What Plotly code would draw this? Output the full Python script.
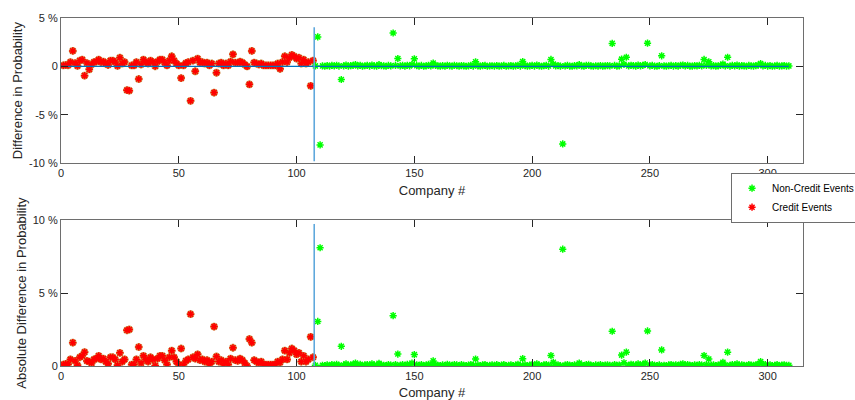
import plotly.graph_objects as go

# ---- data (percent) ----
credit_diff = [0.1, 0.15, 0.12, 0.45, 1.6, 0.35, 0.05, 0.6, 0.7, -0.95,
               0.35, -0.3, 0.2, 0.45, 0.5, 0.7, 0.45, 0.5, 0.3, 0.15,
               0.6, 0.6, 0.45, 0.05, 0.9, 0.3, 0.45, -2.45, -2.5, 0.1,
               0.1, 0.45, -1.3, 0.2, 0.7, 0.45, 0.3, 0.6, 0.45, 0.02,
               0.5, 0.7, 0.7, 0.4, 0.1, 0.6, 1.05, 0.6, 0.3, 0.1,
               -1.2, 0.1, 0.35, 0.45, -3.55, 0.6, -0.5, 0.8, 0.4, 0.45,
               0.3, 0.4, 0.1, 0.3, -2.7, -0.65, 0.3, 0.4, 0.1, 0.3,
               0.1, 0.5, 1.25, 0.4, 0.35, 0.5, 0.4, 0.2, 0.0, -1.85,
               1.6, 0.4, 0.3, 0.2, 0.3, 0.1, 0.1, 0.1, 0.1, 0.1,
               0.1, 0.3, -0.25, 0.45, 1.05, 0.45, 0.9, 1.2, 1.05, 0.8,
               0.9, 0.3, 0.7, 0.3, 0.45, -2.0, 0.6]

noncredit_diff = [0.05, 3.05, -8.1,
                  0.05, 0.02, 0.08, 0.03, 0.1, 0.05, 0.12, 0.04,
                  -1.35,
                  0.06, 0.15, 0.03, 0.08, 0.1, 0.2, 0.05, 0.12, 0.02, 0.07,
                  0.1, 0.04, 0.15, 0.06, 0.03, 0.18, 0.08, 0.05, 0.02, 0.1, 0.06,
                  3.45, 0.1, 0.82,
                  0.05, 0.1, 0.03, 0.12, 0.06, 0.2,
                  0.78,
                  0.08, 0.04, 0.1, 0.02, 0.06, 0.12, 0.05,
                  0.35,
                  0.1, 0.05, 0.03, 0.08, 0.02, 0.12, 0.06, 0.04, 0.1, 0.07,
                  0.03, 0.09, 0.05, 0.02, 0.06, 0.1, 0.04,
                  0.48,
                  0.06, 0.03, 0.08, 0.1, 0.02, 0.05, 0.07, 0.04, 0.09, 0.03,
                  0.06, 0.1, 0.02, 0.05, 0.08, 0.03, 0.06, 0.12, 0.04,
                  0.5,
                  0.08, 0.03, 0.06, 0.1, 0.04, 0.15, 0.05, 0.02, 0.07, 0.1, 0.04,
                  0.72, 0.25,
                  0.05, 0.08, 0.03,
                  -8.0,
                  0.06, 0.1, 0.04, 0.02, 0.08, 0.05, 0.2, 0.06, 0.03, 0.1,
                  0.12, 0.05, 0.02, 0.07, 0.04, 0.09, 0.03, 0.06, 0.08, 0.05,
                  2.38,
                  0.1, 0.04, 0.06,
                  0.75, 0.22, 0.95,
                  0.05, 0.12, 0.08, 0.03, 0.15, 0.06, 0.1, 0.2,
                  2.4,
                  0.06, 0.1, 0.04, 0.02, 0.08,
                  1.1,
                  0.05, 0.03, 0.07, 0.1, 0.04, 0.08, 0.02, 0.12, 0.15, 0.06,
                  0.1, 0.04, 0.03, 0.08, 0.05, 0.1, 0.06,
                  0.72, 0.1, 0.48,
                  0.05, 0.08, 0.03, 0.06, 0.1,
                  0.25, 0.06, 0.95,
                  0.04, 0.1, 0.06, 0.15, 0.03, 0.08, 0.05, 0.02, 0.1, 0.06,
                  0.04, 0.08, 0.12,
                  0.3,
                  0.06, 0.1, 0.04, 0.08, 0.02, 0.05, 0.1, 0.03, 0.06, 0.08,
                  0.04, 0.05]

credit_x = list(range(1, len(credit_diff) + 1))
noncredit_x = list(range(len(credit_diff) + 1, len(credit_diff) + len(noncredit_diff) + 1))
n_companies = len(credit_diff) + len(noncredit_diff)

credit_abs = [abs(v) for v in credit_diff]
noncredit_abs = [abs(v) for v in noncredit_diff]

separator_x = len(credit_diff) + 0.5
sep_top_y = [-9.8, 4.05]
sep_bot_y = [0, 9.73]
zero_line_x = [0, n_companies]
zero_line_y = [0, 0]

top_tickvals = [-10, -5, 0, 5]
top_ticktext = ["-10 %", "-5 %", "0", "5 %"]
bot_tickvals = [0, 5, 10]
bot_ticktext = ["0", "5 %", "10 %"]
x_tickvals = [0, 50, 100, 150, 200, 250, 300]

GREEN = "#00ff00"
RED = "#ff0000"
FONT = "Liberation Sans, Arial, Helvetica, sans-serif"

fig = go.Figure()

def add_points(x, y, color, name, xa, ya, legend, under=None):
    if under:
        fig.add_trace(go.Scatter(x=x, y=y, mode="markers", xaxis=xa, yaxis=ya,
                                 showlegend=False, hoverinfo="skip",
                                 marker=dict(symbol="asterisk-open", size=6.5, color=under,
                                             line=dict(color=under, width=2.4))))
    fig.add_trace(go.Scatter(x=x, y=y, mode="markers", xaxis=xa, yaxis=ya, name=name,
                             showlegend=legend,
                             marker=dict(symbol="asterisk-open", size=6, color=color,
                                         line=dict(color=color, width=1.5))))

# top panel
add_points(credit_x, credit_diff, RED, "Credit Events", "x", "y", False, under="#c89040")
add_points(noncredit_x, noncredit_diff, GREEN, "Non-Credit Events", "x", "y", False)
fig.add_trace(go.Scatter(x=zero_line_x, y=zero_line_y, mode="lines", xaxis="x", yaxis="y",
                         showlegend=False, line=dict(color="#0072BD", width=1.2)))
fig.add_trace(go.Scatter(x=[separator_x, separator_x], y=sep_top_y, mode="lines", xaxis="x", yaxis="y",
                         showlegend=False, line=dict(color="#5fa8dc", width=1.6)))

# bottom panel
add_points(noncredit_x, noncredit_abs, GREEN, "Non-Credit Events", "x2", "y2", True)
add_points(credit_x, credit_abs, RED, "Credit Events", "x2", "y2", True, under="#c89040")
fig.add_trace(go.Scatter(x=[separator_x, separator_x], y=sep_bot_y, mode="lines", xaxis="x2", yaxis="y2",
                         showlegend=False, line=dict(color="#5fa8dc", width=1.6)))

axis_common = dict(showgrid=False, zeroline=False, showline=True, mirror="ticks",
                   linecolor="#6e6e6e", linewidth=1, ticks="inside", ticklen=7,
                   tickcolor="#262626", automargin=False,
                   tickfont=dict(family=FONT, size=11, color="#262626"))

fig.update_layout(
    width=855, height=400,
    margin=dict(l=61, r=52, t=18, b=34, autoexpand=False),
    paper_bgcolor="white", plot_bgcolor="white",
    font=dict(family=FONT, color="#262626"),
    xaxis=dict(domain=[0, 1], anchor="y", range=[0, 315], tickvals=x_tickvals,
               title=dict(text="Company #", font=dict(size=13), standoff=7), **axis_common),
    yaxis=dict(domain=[0.5825, 1], anchor="x", range=[-10, 5], tickvals=top_tickvals,
               ticktext=top_ticktext,
               title=dict(text="Difference in Probability", font=dict(size=13), standoff=3),
               **axis_common),
    xaxis2=dict(domain=[0, 1], anchor="y2", range=[0, 315], tickvals=x_tickvals,
                title=dict(text="Company #", font=dict(size=13), standoff=6), **axis_common),
    yaxis2=dict(domain=[0, 0.4195], anchor="x2", range=[0, 10], tickvals=bot_tickvals,
                ticktext=bot_ticktext,
                title=dict(text="Absolute Difference in Probability", font=dict(size=13), standoff=3),
                **axis_common),
    legend=dict(x=0.903, y=0.4836, xanchor="left", yanchor="middle",
                bgcolor="white", bordercolor="#6e6e6e", borderwidth=1,
                font=dict(family=FONT, size=10, color="#000000"),
                tracegroupgap=0),
    showlegend=True,
)

fig.write_html("out.html", config={"displayModeBar": False},
               post_script="document.body.style.margin='0';")
